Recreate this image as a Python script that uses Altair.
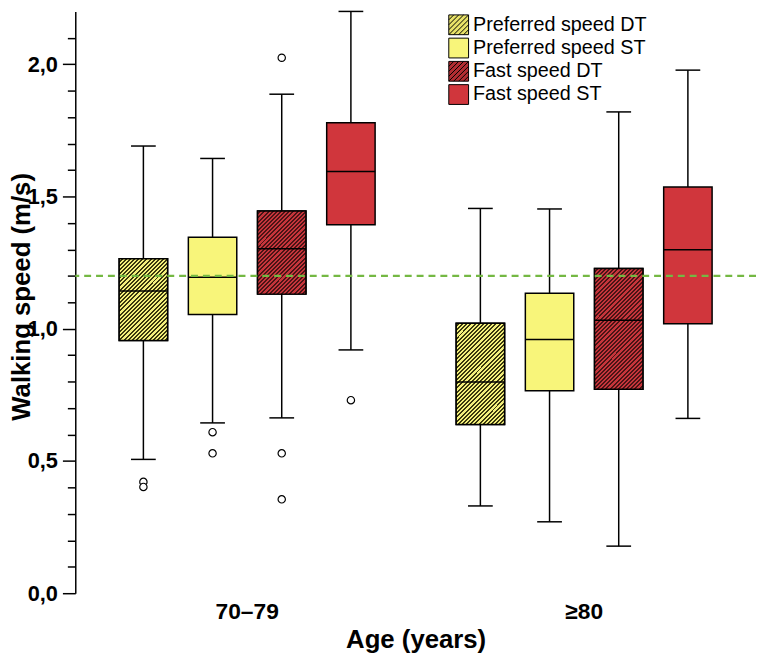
import altair as alt
import pandas as pd

# ---------------- data ----------------
groups = ["70–79", "≥80"]
series = ["Preferred speed DT", "Preferred speed ST", "Fast speed DT", "Fast speed ST"]

box_group = ["70–79", "70–79", "70–79", "70–79", "≥80", "≥80", "≥80", "≥80"]
box_series = series + series
whisker_low = [0.506, 0.644, 0.663, 0.920, 0.330, 0.270, 0.178, 0.661]
q1 = [0.956, 1.054, 1.131, 1.393, 0.638, 0.766, 0.771, 1.019]
median = [1.143, 1.195, 1.303, 1.595, 0.799, 0.959, 1.032, 1.299]
q3 = [1.265, 1.346, 1.445, 1.779, 1.021, 1.134, 1.228, 1.536]
whisker_high = [1.691, 1.644, 1.887, 2.200, 1.455, 1.453, 1.820, 1.978]

outlier_group = ["70–79"] * 8
outlier_series = ["Preferred speed DT", "Preferred speed DT", "Preferred speed ST", "Preferred speed ST",
                  "Fast speed DT", "Fast speed DT", "Fast speed DT", "Fast speed ST"]
outlier_value = [0.421, 0.402, 0.609, 0.529, 2.025, 0.529, 0.355, 0.730]

reference_speed = [1.2]
y_tick_values = [0.0, 0.1, 0.2, 0.3, 0.4, 0.5, 0.6, 0.7, 0.8, 0.9, 1.0, 1.1,
                 1.2, 1.3, 1.4, 1.5, 1.6, 1.7, 1.8, 1.9, 2.0, 2.1]

boxes = pd.DataFrame({"group": box_group, "series": box_series, "lo": whisker_low,
                      "q1": q1, "median": median, "q3": q3, "hi": whisker_high})
outliers = pd.DataFrame({"group": outlier_group, "series": outlier_series, "value": outlier_value})
ref = pd.DataFrame({"speed": reference_speed})

# ---------------- style ----------------
W, H = 688, 588
Y_MAX = 2.2
BOX_W = 49
FONT = "Liberation Sans"
series_colors = ["#e8e268", "#f8f57a", "#b22d32", "#d0363c"]
hatch_colors = {"Preferred speed DT": ("#f4f07c", "#3a380e"),
                "Fast speed DT": ("#c6353b", "#4a1416")}
HATCH_PATH = ("M-1,-1H1V1H-1Z M-1,-0.5L-0.5,-1 M-1,0L0,-1 M-1,0.5L0.5,-1 M-1,1L1,-1 "
              "M-0.5,1L1,-0.5 M0,1L1,0 M0.5,1L1,0.5")
shape_range = [HATCH_PATH, "square", HATCH_PATH, "square"]


def hatch_fill(height_px, bg, fg, period=4.2, line_frac=0.48):
    w = BOX_W
    h = height_px
    L = w + h                      # extent of x+y over the box, in pixels
    s = (w + h) / (w * w + h * h)  # gradient vector so that t=1 at the far corner
    stops = []
    i = 0
    while i * period / L < 1:
        t0 = i * period / L
        t1 = min((i + 1 - line_frac) * period / L, 1)
        t2 = min((i + 1) * period / L, 1)
        stops += [{"offset": round(t0, 5), "color": bg}, {"offset": round(t1, 5), "color": bg},
                  {"offset": round(t1, 5), "color": fg}, {"offset": round(t2, 5), "color": fg}]
        i += 1
    return {"gradient": "linear", "x1": 0, "y1": 0, "x2": round(w * s, 5),
            "y2": round(h * s, 5), "stops": stops}


major = "abs(datum.value*2 - round(datum.value*2)) < 0.001"

y_axis = alt.Axis(
    values=y_tick_values,
    labelExpr=f"{major} ? replace(format(datum.value, '.1f'), '.', ',') : ''",
    tickSize={"condition": {"test": major, "value": 13}, "value": 8},
    tickWidth=1.5, tickColor="black", domainColor="black", domainWidth=1.5,
    labelFont=FONT, labelFontSize=22, labelFontWeight="bold", labelColor="black",
    labelPadding=5, labelOverlap=False, labelFlush=False, labelBaseline="middle",
    grid=False,
    titleFont=FONT, titleFontSize=26, titleFontWeight="bold", titleColor="black",
    titleX=-54, titleY=288, titleAngle=270, titleAlign="center", titleBaseline="middle",
)
x_axis = alt.Axis(
    labelFont=FONT, labelFontSize=23, labelFontWeight="bold", labelColor="black",
    ticks=False, domain=False, labelPadding=19, labelBaseline="middle", labelAngle=0,
    grid=False,
    titleFont=FONT, titleFontSize=26, titleFontWeight="bold", titleColor="black",
    titleY=47, titleBaseline="middle",
)

x_enc = alt.X("group:N", scale=alt.Scale(domain=groups, paddingInner=0, paddingOuter=0.01),
              axis=x_axis, title="Age (years)")
xo_enc = alt.XOffset("series:N", scale=alt.Scale(domain=series, paddingInner=0.3, paddingOuter=0.586))
y_scale = alt.Scale(domain=[0, Y_MAX], nice=False, zero=True)


def Y(field):
    return alt.Y(field, type="quantitative", scale=y_scale, axis=y_axis, title="Walking speed (m/s)")


color_scale = alt.Scale(domain=series, range=series_colors)
legend = alt.Legend(title=None, orient="none", legendX=377, legendY=3, symbolSize=400,
                    symbolStrokeColor="black", symbolStrokeWidth=1, labelFont=FONT,
                    labelFontSize=20, labelColor="black", rowPadding=-1.5, labelOffset=4,
                    padding=0, symbolOffset=0, labelLimit=400)

base = alt.Chart(boxes)

legend_layer = base.mark_point(filled=True, opacity=1, stroke="black", strokeWidth=1).encode(
    x=x_enc, xOffset=xo_enc, y=Y("median"),
    color=alt.Color("series:N", scale=color_scale, legend=legend),
    shape=alt.Shape("series:N", scale=alt.Scale(domain=series, range=shape_range), legend=legend),
)

whiskers = base.mark_rule(color="black", strokeWidth=1.5).encode(
    x=x_enc, xOffset=xo_enc, y=Y("lo"), y2="hi:Q")

cap_lo = base.mark_tick(color="black", size=25, thickness=1.5, orient="horizontal", opacity=1).encode(
    x=x_enc, xOffset=xo_enc, y=Y("lo"))
cap_hi = base.mark_tick(color="black", size=25, thickness=1.5, orient="horizontal", opacity=1).encode(
    x=x_enc, xOffset=xo_enc, y=Y("hi"))

box_layer = base.mark_bar(stroke="black", strokeWidth=1.5, opacity=1).encode(
    x=x_enc, xOffset=xo_enc, y=Y("q1"), y2="q3:Q",
    color=alt.Color("series:N", scale=color_scale, legend=None))

k = H / Y_MAX
hatched_layers = []
for g, s, a, b in zip(box_group, box_series, q1, q3):
    if s in hatch_colors:
        bg, fg = hatch_colors[s]
        fill = hatch_fill((b - a) * k, bg, fg)
        hatched_layers.append(
            base.mark_bar(fill=fill, stroke="black", strokeWidth=1.5, opacity=1)
            .encode(x=x_enc, xOffset=xo_enc, y=Y("q1"), y2="q3:Q")
            .transform_filter((alt.datum.group == g) & (alt.datum.series == s))
        )

median_layer = base.mark_tick(color="black", size=BOX_W, thickness=1.5, orient="horizontal", opacity=1).encode(
    x=x_enc, xOffset=xo_enc, y=Y("median"))

outlier_layer = alt.Chart(outliers).mark_point(
    shape="circle", filled=True, fill="white", stroke="black", strokeWidth=1.2, size=55, opacity=1
).encode(x=x_enc, xOffset=xo_enc, y=Y("value"))

ref_layer = alt.Chart(ref).mark_rule(color="#74b843", strokeDash=[7, 5], strokeWidth=2.5).encode(
    y=Y("speed"))

chart = alt.layer(
    legend_layer, whiskers, cap_lo, cap_hi, box_layer, *hatched_layers, median_layer,
    outlier_layer, ref_layer
).properties(
    width=W, height=H,
    autosize=alt.AutoSizeParams(type="none"),
    padding={"left": 68, "top": 0, "right": 0, "bottom": 60},
    background="white",
).configure_view(stroke=None)

chart.save("out.html", embed_options={"renderer": "svg", "actions": False})
